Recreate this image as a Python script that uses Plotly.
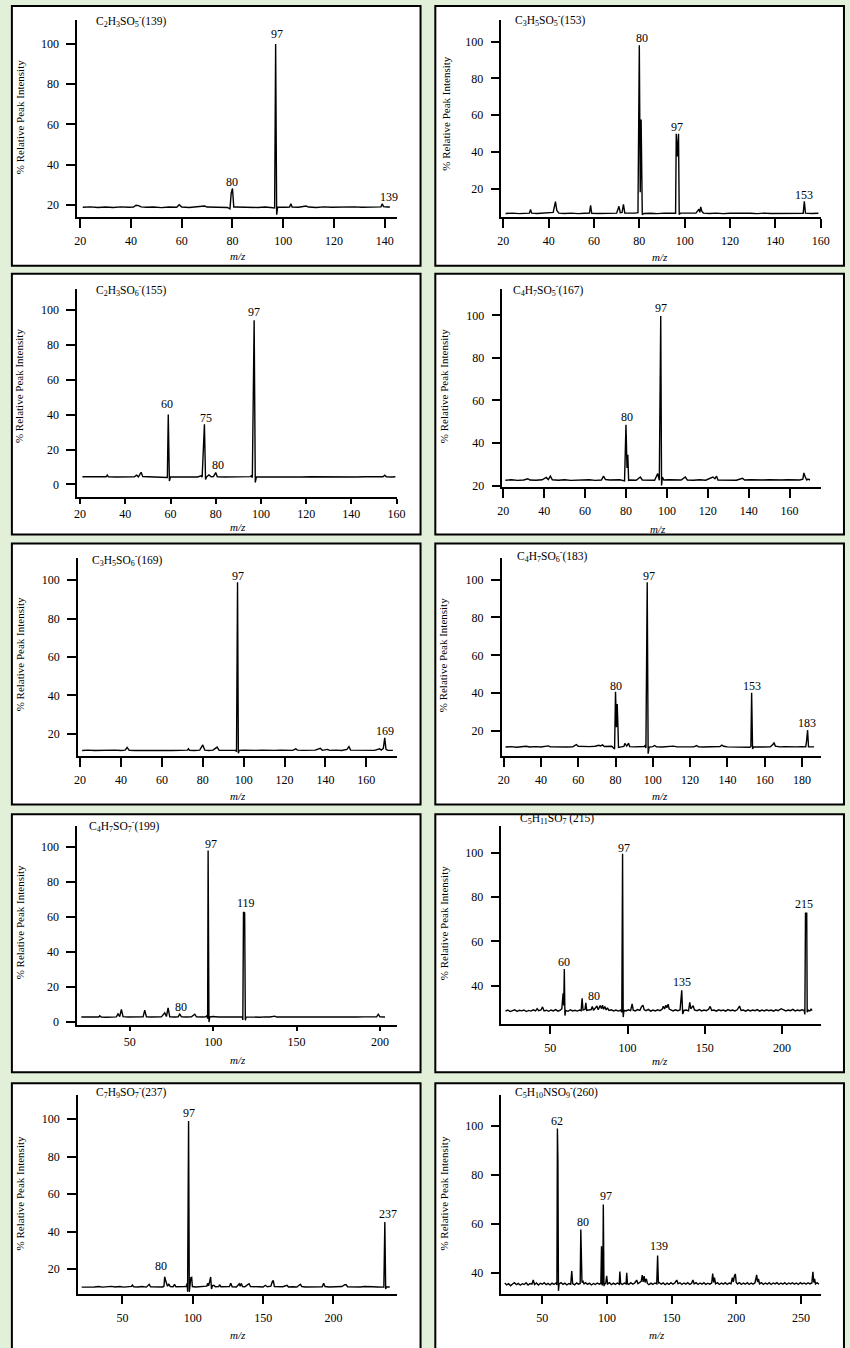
import plotly.graph_objects as go

W, H = 850, 1348
FONT = "Liberation Serif, Times New Roman, serif"

# ---------------- data (m/z, % relative intensity) ----------------
mz_139 = [21, 24, 27, 30, 33, 36, 39, 41, 42, 43,
          44, 46, 49, 52, 55, 58, 59, 60, 63, 66,
          69, 70, 73, 76, 78, 79, 79.5, 80, 80.5, 81,
          84, 87, 90, 93, 95, 96, 96.6, 97, 97.4, 97.8,
          99, 101, 102.5, 103, 103.5, 106, 109, 110, 113, 116,
          119, 122, 125, 128, 131, 134, 137, 138.5, 139, 139.5,
          141, 142]
int_139 = [18.9, 19.1, 18.8, 19.0, 18.8, 19.1, 18.9, 19.0, 19.9, 19.7,
           19.1, 18.9, 19.0, 18.7, 19.0, 18.9, 20.2, 19.0, 18.8, 19.0,
           19.5, 19.0, 18.9, 19.1, 18.8, 18.1, 26.0, 28.2, 19.0, 19.0,
           18.9, 19.1, 18.8, 19.0, 18.9, 18.7, 18.5, 100.0, 15.2, 19.0,
           19.1, 18.9, 19.0, 20.6, 19.0, 18.9, 19.5, 19.0, 18.8, 19.1,
           18.9, 19.0, 18.8, 19.1, 18.9, 19.0, 18.9, 19.1, 20.6, 19.2,
           19.0, 19.0]

mz_153 = [21, 24, 27, 30, 31.5, 32, 32.5, 35, 38, 40,
          42, 43, 43.6, 44.5, 47, 50, 53, 56, 58, 58.5,
          59, 62, 65, 68, 70, 71, 71.6, 72.4, 73, 73.6,
          76, 78, 79.4, 80, 80.4, 80.8, 81.3, 82, 85, 88,
          91, 94, 96, 96.3, 96.8, 97.3, 97.6, 98.2, 100, 103,
          105, 106.3, 106.7, 107.1, 107.6, 108.3, 111, 114, 117, 120,
          123, 126, 129, 132, 135, 138, 141, 144, 147, 150,
          152.3, 152.8, 153.3, 156, 159]
int_153 = [6.4, 6.6, 6.3, 6.5, 6.6, 8.6, 6.6, 6.4, 6.7, 6.8,
           7.0, 12.8, 8.0, 6.6, 6.4, 6.6, 6.3, 6.5, 6.6, 10.8,
           6.5, 6.4, 6.6, 6.4, 6.6, 10.3, 6.8, 7.0, 11.3, 6.6,
           6.4, 6.6, 6.8, 98.0, 18.0, 57.5, 5.8, 6.4, 6.5, 6.3,
           6.6, 6.4, 6.5, 49.8, 37.5, 49.8, 5.8, 6.6, 6.5, 6.4,
           6.6, 8.8, 7.0, 10.0, 7.5, 6.6, 6.4, 6.6, 6.3, 6.5,
           6.6, 6.4, 6.5, 6.3, 6.6, 6.4, 6.5, 6.3, 6.6, 6.4,
           6.5, 13.0, 6.6, 6.4, 6.5]

mz_155 = [21, 25, 29, 31.5, 32, 32.5, 36, 40, 44, 45,
          45.8, 47, 47.7, 50, 54, 58, 58.6, 59, 59.5, 60,
          64, 68, 72, 73.5, 74, 75, 75.5, 76, 77, 78,
          79, 80, 80.7, 84, 88, 92, 95.3, 95.7, 96.2, 97,
          97.5, 98, 102, 106, 110, 114, 118, 122, 126, 130,
          134, 138, 142, 146, 150, 154, 154.8, 155.5, 158, 159.5]
int_155 = [4.4, 4.5, 4.3, 4.4, 5.4, 4.4, 4.3, 4.5, 4.4, 5.3,
           4.4, 7.0, 4.5, 4.4, 4.3, 4.4, 4.0, 40.0, 2.0, 4.4,
           4.3, 4.4, 4.3, 5.0, 4.2, 34.5, 2.8, 4.4, 5.5, 4.4,
           4.5, 6.8, 4.4, 4.3, 4.4, 4.3, 4.5, 5.0, 4.0, 94.0,
           1.2, 4.4, 4.3, 4.4, 4.3, 4.4, 4.3, 4.4, 4.3, 4.4,
           4.3, 4.4, 4.3, 4.4, 4.3, 4.4, 5.3, 4.4, 4.3, 4.4]

mz_167 = [21, 24, 27, 30, 32, 33, 36, 39, 41, 42,
          43, 44, 47, 50, 53, 56, 59, 62, 65, 68,
          69, 70, 72, 75, 77, 79.3, 80, 80.5, 80.9, 81.3,
          82, 85, 87, 88, 91, 94, 95.5, 96.3, 97, 97.4,
          97.8, 98.5, 101, 104, 107, 109, 110, 113, 116, 119,
          121.5, 122.5, 123.5, 124.3, 125, 128, 131, 134, 137, 138,
          141, 144, 147, 150, 153, 156, 159, 162, 165, 166.5,
          167, 167.7, 168.4, 169, 170]
int_167 = [22.5, 22.7, 22.4, 22.6, 23.2, 22.6, 22.5, 22.7, 23.8, 22.8,
           24.4, 22.7, 22.5, 22.7, 22.4, 22.6, 22.5, 22.7, 22.4, 22.6,
           24.4, 22.8, 22.6, 22.5, 22.7, 22.2, 48.6, 28.3, 34.5, 22.4,
           22.6, 22.5, 24.0, 22.6, 22.7, 22.5, 25.6, 22.5, 99.7, 20.0,
           24.0, 22.6, 22.7, 22.5, 22.6, 24.0, 22.6, 22.5, 22.7, 22.5,
           23.6, 24.0, 23.2, 24.4, 22.6, 22.5, 22.7, 22.5, 23.4, 22.6,
           22.7, 22.5, 22.6, 22.7, 22.5, 22.6, 22.7, 22.5, 22.6, 23.0,
           25.9, 24.0, 22.6, 23.0, 22.6]

mz_169 = [21, 24, 27, 30, 32, 34, 37, 40, 42, 43,
          44, 47, 50, 53, 56, 59, 62, 65, 68, 71,
          72.5, 73, 73.5, 76, 78.5, 80, 81, 83, 85, 86.5,
          87, 88, 91, 94, 96, 96.5, 97, 97.4, 97.8, 100,
          103, 106, 109, 112, 115, 118, 121, 124, 125.5, 126.3,
          129, 132, 135, 137.5, 138.5, 141, 142, 145, 148, 150.5,
          151.5, 152.3, 155, 158, 161, 164, 166.5, 167.3, 168.3, 169,
          169.6, 170.5, 173]
int_169 = [11.4, 11.6, 11.4, 11.5, 11.8, 11.5, 11.6, 11.4, 11.6, 13.0,
           11.5, 11.4, 11.6, 11.5, 11.4, 11.6, 11.5, 11.4, 11.6, 11.5,
           11.6, 12.3, 11.5, 11.4, 11.6, 14.3, 11.6, 11.4, 11.6, 12.8,
           13.2, 11.5, 11.4, 11.6, 11.5, 10.8, 98.8, 10.0, 11.5, 11.6,
           11.4, 11.5, 11.6, 11.4, 11.5, 11.6, 11.4, 11.5, 12.3, 11.6,
           11.5, 11.4, 11.6, 12.5, 11.5, 12.0, 11.5, 11.6, 11.4, 12.0,
           13.4, 11.6, 11.5, 11.4, 11.6, 11.5, 12.3, 11.6, 12.5, 18.0,
           12.0, 11.5, 11.5]

mz_183 = [21, 24, 27, 30, 32, 34, 37, 40, 43, 44,
          45, 48, 51, 54, 57, 59, 60, 63, 66, 69,
          71, 72, 73, 74, 76, 78, 79.5, 80, 80.5, 80.9,
          81.3, 81.6, 83, 84.5, 85, 86, 87, 87.6, 90, 93,
          95.3, 95.8, 96.3, 97, 97.5, 98, 100, 101, 102, 105,
          108, 111, 113, 116, 119, 122, 123.5, 124.5, 127, 130,
          133, 136, 137, 138, 140, 143, 146, 149, 152, 152.6,
          153, 153.5, 154, 157, 160, 163, 164.5, 165, 165.7, 168,
          171, 174, 177, 180, 182, 182.5, 183, 183.5, 185, 186.5]
int_183 = [11.5, 11.7, 11.4, 11.6, 11.9, 11.5, 11.7, 11.5, 11.8, 12.1,
           11.6, 11.5, 11.7, 11.5, 11.6, 12.8, 11.9, 11.6, 11.7, 11.9,
           12.4, 12.1, 12.6, 11.8, 11.7, 11.9, 10.5, 40.7, 22.0, 34.2,
           22.3, 11.3, 11.6, 11.8, 13.4, 12.0, 13.5, 11.7, 11.6, 11.5,
           11.8, 12.2, 11.0, 98.6, 8.0, 11.5, 11.7, 12.3, 11.6, 11.5,
           11.7, 12.0, 11.6, 11.5, 11.7, 11.6, 12.3, 11.6, 11.5, 11.7,
           11.6, 11.8, 12.5, 11.9, 11.6, 11.5, 11.7, 11.6, 11.4, 11.8,
           40.2, 10.5, 11.6, 11.5, 11.7, 11.6, 13.0, 13.9, 12.0, 11.6,
           11.7, 11.5, 11.6, 11.7, 11.6, 15.0, 20.5, 11.6, 11.7, 11.6]

mz_199 = [21, 25, 29, 31.5, 32, 33, 36, 39, 42, 43,
          44, 45, 46, 49, 52, 55, 58, 59, 60, 63,
          66, 69, 71, 72, 73, 74, 77, 79, 80, 81,
          84, 87, 89, 90, 93, 95.5, 96.3, 96.7, 97, 97.5,
          98, 100, 103, 106, 109, 112, 115, 117.5, 117.8, 118.2,
          118.9, 119.3, 119.8, 122, 125, 128, 131, 134, 137, 138,
          142, 146, 150, 154, 158, 162, 166, 170, 174, 178,
          182, 186, 190, 194, 198, 199, 200, 203]
int_199 = [2.9, 3.0, 2.8, 2.9, 3.6, 2.9, 2.8, 3.0, 3.0, 4.7,
           3.2, 7.2, 3.1, 2.9, 2.8, 3.0, 3.0, 6.8, 3.0, 2.9,
           2.8, 3.0, 5.3, 3.2, 8.2, 3.0, 2.9, 3.0, 4.6, 3.0,
           2.9, 3.0, 4.5, 3.0, 2.9, 3.0, 3.6, 2.0, 98.1, 0.0,
           3.0, 3.2, 2.9, 3.0, 2.8, 3.0, 2.9, 3.0, 1.2, 63.0,
           62.5, 1.0, 3.0, 2.9, 3.0, 2.8, 3.0, 2.9, 3.4, 2.9,
           3.0, 2.8, 2.9, 3.0, 2.8, 2.9, 3.0, 2.8, 2.9, 3.0,
           2.8, 2.9, 3.0, 2.8, 3.0, 4.5, 3.0, 2.9]

mz_215 = [21, 22.5, 24, 25.5, 27, 28.5, 30, 31.5, 33, 34.5,
          36, 37.5, 39, 40.5, 41.5, 42.5, 44, 45, 46, 47.5,
          49, 50.5, 52, 53.5, 55, 56.5, 57.5, 58.3, 58.7, 59.1,
          59.5, 60, 61.5, 63, 64.5, 66, 67.5, 69, 70, 70.6,
          71.2, 72.5, 73, 73.6, 75, 76.5, 77.2, 78, 79.3, 80.2,
          81, 82.3, 83.2, 83.8, 84.5, 85.3, 86.2, 87, 88, 89.5,
          91, 92.5, 94, 95.5, 96.3, 96.8, 97.2, 97.7, 99, 100.5,
          102, 103, 103.7, 105, 106.5, 108, 109, 110, 110.8, 112,
          113.5, 115, 116.5, 118, 119.5, 121, 122.5, 123.2, 124, 124.8,
          125.5, 126.3, 127, 128, 129.5, 131, 132.5, 134, 134.6, 135.1,
          135.7, 136.5, 138, 139.5, 140.3, 141, 141.8, 142.5, 143.3, 145,
          146.5, 148, 149.5, 151, 152.5, 153.5, 154.5, 156, 157.5, 159,
          160.5, 162, 163.5, 165, 166.5, 168, 169.5, 171, 172.5, 173.5,
          175, 176.5, 178, 179.5, 181, 182.5, 184, 185.5, 187, 188.5,
          190, 191.5, 193, 194.5, 196, 197.5, 199.5, 201, 202.5, 204,
          205.5, 207, 208.5, 210, 211.5, 213, 214.3, 214.8, 215.2, 215.6,
          216, 216.3, 217, 218, 218.8, 219.5]
int_215 = [28.5, 29.0, 28.3, 28.8, 29.1, 28.4, 28.9, 28.6, 29.0, 28.3,
           28.8, 28.5, 29.1, 28.6, 29.6, 28.7, 29.0, 30.4, 28.6, 28.9,
           28.4, 29.0, 28.6, 29.2, 28.5, 28.9, 29.6, 36.5, 31.0, 47.5,
           26.5, 28.8, 28.4, 29.1, 28.6, 28.9, 28.5, 29.0, 28.7, 34.3,
           29.0, 29.3, 32.2, 28.8, 28.9, 29.2, 30.6, 28.9, 30.0, 30.8,
           29.1, 31.0, 29.6, 31.2, 29.3, 30.6, 29.0, 30.0, 28.8, 29.1,
           28.6, 29.0, 28.5, 28.9, 28.0, 99.6, 25.8, 28.9, 28.6, 29.1,
           28.7, 31.8, 28.9, 28.6, 29.2, 28.8, 30.4, 31.2, 29.1, 28.7,
           29.3, 28.5, 29.0, 28.6, 29.1, 28.7, 29.4, 30.7, 29.5, 31.1,
           30.0, 31.6, 29.4, 29.0, 28.6, 29.1, 28.7, 29.0, 33.0, 37.9,
           27.2, 28.8, 29.0, 28.6, 32.5, 29.5, 30.3, 31.0, 29.0, 28.7,
           29.2, 28.6, 29.0, 28.7, 29.3, 30.6, 28.8, 29.0, 28.5, 29.1,
           28.7, 29.0, 28.5, 29.2, 28.7, 29.0, 28.6, 29.1, 30.8, 28.8,
           29.0, 28.5, 29.1, 28.6, 29.0, 28.7, 29.2, 28.5, 29.0, 28.6,
           29.1, 28.7, 29.0, 28.5, 29.1, 28.7, 29.6, 28.9, 28.6, 29.0,
           28.7, 29.3, 28.6, 29.0, 28.7, 29.1, 28.8, 27.0, 73.0, 65.8,
           73.0, 28.0, 28.9, 28.6, 29.4, 28.7]

mz_237 = [21, 24, 27, 30, 33, 36, 39, 42, 45, 48,
          51, 54, 56.5, 57, 58, 61, 64, 67, 69, 70,
          73, 76, 78.5, 79.5, 80, 80.7, 81.3, 82, 83, 84,
          86, 87, 88, 91, 94, 95.5, 96, 96.3, 97, 97.5,
          98, 98.6, 99.2, 99.7, 102, 105, 108, 110, 110.5, 111.2,
          112, 112.7, 113.3, 114, 115, 116, 118.5, 119, 120, 123,
          126, 127, 128, 131, 133, 133.7, 134.5, 135.3, 137, 139,
          140, 141, 144, 147, 150, 151.5, 153, 155.5, 156.5, 157.2,
          158, 161, 164, 167, 168, 171, 174, 176.5, 177.5, 180,
          183, 186, 189, 192, 193, 194, 197, 200, 203, 206,
          208, 209, 210, 213, 216, 219, 222, 225, 228, 231,
          234, 235.8, 236.5, 237.1, 237.7, 240]
int_237 = [10.5, 10.7, 10.5, 10.6, 10.8, 10.5, 10.7, 10.9, 10.6, 10.8,
           10.5, 10.7, 10.9, 11.6, 10.7, 10.6, 10.8, 10.5, 12.0, 10.7,
           10.6, 10.8, 10.6, 11.0, 16.0, 14.0, 12.0, 11.0, 12.0, 10.8,
           10.7, 12.0, 10.7, 10.6, 10.8, 10.9, 12.6, 8.0, 98.9, 8.0,
           10.8, 15.5, 15.7, 10.8, 10.6, 10.7, 10.6, 11.0, 12.5, 11.2,
           13.5, 15.9, 9.5, 11.3, 11.5, 10.7, 10.8, 11.8, 10.7, 10.6,
           10.8, 12.5, 10.7, 10.6, 12.3, 11.0, 12.5, 10.8, 10.7, 11.8,
           12.3, 10.8, 10.6, 10.7, 10.6, 11.5, 10.7, 11.0, 13.5, 14.1,
           10.8, 10.6, 10.7, 11.5, 10.6, 10.7, 10.6, 12.0, 10.8, 10.6,
           10.7, 10.6, 10.8, 10.7, 12.5, 10.8, 10.6, 10.7, 10.6, 10.8,
           11.8, 11.8, 10.7, 10.6, 10.7, 10.6, 10.8, 10.6, 10.7, 10.6,
           10.7, 10.5, 45.2, 9.5, 10.7, 10.6]

mz_260 = [21, 22.5, 24, 25.5, 27, 28.5, 30, 31.5, 33, 34.5,
          36, 37.5, 39, 40.5, 42, 43, 44, 45.5, 47, 48.5,
          50, 51.5, 53, 54.5, 56, 57.5, 59, 60.5, 61.3, 61.7,
          62.1, 62.5, 63, 64.5, 66, 67.5, 69, 70.5, 72, 72.8,
          73.5, 75, 76.5, 78, 79.3, 79.8, 80.3, 80.7, 81.5, 82.3,
          83.5, 85, 86.5, 88, 89.5, 91, 92.5, 94, 95.3, 95.8,
          96.3, 96.8, 97.2, 97.7, 98.3, 99, 99.8, 100.5, 102, 103.5,
          105, 106.5, 108, 109.5, 110, 110.6, 112, 113.5, 114.8, 115.3,
          115.9, 117, 118.5, 120, 121.5, 123, 124, 125.5, 126.5, 127.3,
          128, 128.8, 129.5, 130.5, 131.3, 132.5, 134, 135.5, 137, 138.5,
          139.2, 139.8, 140.5, 142, 143.5, 145, 146.5, 148, 149.5, 151,
          152.5, 154, 155, 156.5, 158, 159.5, 161, 162.5, 164, 165.5,
          166.5, 167.5, 169, 170.5, 172, 173.5, 175, 176.5, 178, 179.5,
          181, 181.8, 182.5, 183.2, 184, 185.5, 187, 188.5, 190, 191.5,
          193, 194.5, 196, 197, 197.8, 198.5, 199.3, 200, 201, 202.5,
          204, 205.5, 207, 208.5, 210, 211.5, 213, 214.5, 215.8, 216.5,
          217.2, 218, 219.5, 221, 222.5, 224, 225.5, 227, 228.5, 230,
          231.5, 233, 234.5, 236, 237.5, 239, 240.5, 242, 243.5, 245,
          246.5, 248, 249.5, 251, 252.5, 254, 255.5, 257, 258.5, 259.3,
          260, 260.6, 261.3, 262.5, 264]
int_260 = [35.8, 35.0, 35.5, 34.7, 35.4, 35.9, 35.1, 35.6, 34.9, 35.5,
           35.2, 35.9, 35.0, 35.6, 35.3, 37.0, 35.2, 35.8, 35.0, 35.7,
           35.3, 35.9, 35.1, 35.6, 35.0, 35.7, 35.2, 35.8, 35.0, 98.9,
           85.6, 32.6, 35.4, 35.9, 35.2, 35.7, 35.0, 35.6, 35.3, 40.7,
           35.5, 35.0, 35.8, 35.3, 35.6, 57.6, 45.8, 36.0, 36.5, 35.4,
           35.9, 35.2, 35.7, 35.0, 35.6, 35.2, 35.8, 35.3, 35.6, 50.8,
           34.8, 36.0, 67.8, 34.5, 35.8, 35.3, 38.7, 35.4, 35.9, 35.1,
           35.7, 35.2, 35.8, 35.3, 40.5, 35.6, 35.2, 35.8, 35.4, 40.0,
           35.5, 35.2, 35.9, 35.3, 35.8, 37.0, 35.5, 35.9, 36.5, 39.0,
           36.2, 38.6, 36.0, 37.5, 35.6, 35.1, 35.7, 35.2, 35.8, 35.4,
           47.0, 35.8, 36.0, 35.3, 35.8, 35.1, 35.7, 35.2, 35.9, 35.3,
           35.8, 37.0, 35.5, 35.9, 35.2, 35.8, 35.3, 35.9, 35.2, 35.7,
           37.0, 35.4, 35.9, 35.2, 35.8, 35.3, 35.9, 35.2, 35.7, 35.3,
           35.8, 39.6, 36.0, 38.0, 35.4, 35.9, 35.2, 35.8, 35.3, 35.9,
           35.2, 35.8, 35.5, 38.0, 36.2, 38.6, 39.5, 36.0, 35.4, 35.9,
           35.2, 35.8, 35.3, 35.9, 35.2, 35.8, 35.3, 35.9, 39.1, 36.2,
           37.5, 35.4, 35.9, 35.2, 35.8, 35.3, 35.9, 35.2, 35.8, 35.4,
           35.9, 35.2, 35.8, 35.3, 35.9, 35.2, 35.8, 35.4, 35.9, 35.3,
           35.8, 35.2, 35.9, 35.4, 35.8, 35.3, 35.9, 35.4, 35.8, 40.4,
           36.0, 37.5, 35.4, 35.9, 35.3]

# ion titles
titles = [
    "C<sub>2</sub>H<sub>3</sub>SO<sub>5</sub><sup>-</sup>(139)",
    "C<sub>3</sub>H<sub>5</sub>SO<sub>5</sub><sup>-</sup>(153)",
    "C<sub>2</sub>H<sub>3</sub>SO<sub>6</sub><sup>-</sup>(155)",
    "C<sub>4</sub>H<sub>7</sub>SO<sub>5</sub><sup>-</sup>(167)",
    "C<sub>3</sub>H<sub>5</sub>SO<sub>6</sub><sup>-</sup>(169)",
    "C<sub>4</sub>H<sub>7</sub>SO<sub>6</sub><sup>-</sup>(183)",
    "C<sub>4</sub>H<sub>7</sub>SO<sub>7</sub><sup>-</sup>(199)",
    "C<sub>5</sub>H<sub>11</sub>SO<sub>7</sub><sup>-</sup>(215)",
    "C<sub>7</sub>H<sub>9</sub>SO<sub>7</sub><sup>-</sup>(237)",
    "C<sub>5</sub>H<sub>10</sub>NSO<sub>9</sub><sup>-</sup>(260)",
]

# peak labels: text, x (m/z), y (%)
lab_txt_139, lab_x_139, lab_y_139 = ["97", "80", "139"], [97.5, 79.9, 141.7], [104.8, 31.4, 24.0]
lab_txt_153, lab_x_153, lab_y_153 = ["80", "97", "153"], [81.1, 96.7, 152.8], [101.8, 53.3, 16.2]
lab_txt_155, lab_x_155, lab_y_155 = ["60", "75", "80", "97"], [58.6, 75.6, 80.8, 96.8], [45.9, 38.3, 11.4, 98.7]
lab_txt_167, lab_x_167, lab_y_167 = ["80", "97"], [80.5, 96.9], [52.0, 103.4]
lab_txt_169, lab_x_169, lab_y_169 = ["97", "169"], [97.3, 168.9], [102.2, 21.7]
lab_txt_183, lab_x_183, lab_y_183 = ["80", "97", "153", "183"], [80.4, 98.2, 153.1, 182.5], [43.7, 102.1, 43.7, 24.0]
lab_txt_199, lab_x_199, lab_y_199 = ["80", "97", "119"], [80.9, 98.8, 119.9], [8.9, 102.1, 67.9]
lab_txt_215, lab_x_215, lab_y_215 = ["60", "80", "97", "135", "215"], [58.9, 78.5, 97.6, 135.2, 214.4], [50.5, 35.2, 102.25, 41.5, 76.75]
lab_txt_237, lab_x_237, lab_y_237 = ["80", "97", "237"], [77.3, 97.1, 238.9], [21.8, 103.0, 49.5]
lab_txt_260, lab_x_260, lab_y_260 = ["62", "80", "97", "139"], [61.7, 81.2, 99.5, 140.4], [102.0, 60.6, 71.2, 51.1]

# axis ranges and ticks
x_ranges = [[18.8, 144.9], [19.1, 160.3], [18.7, 160.3], [19.5, 175.2], [18.9, 175.1],
            [18.9, 190.0], [18.5, 210.0], [18.3, 225.0], [18.3, 245.3], [18.3, 265.8]]
y_ranges = [[13.9, 111.9], [4.3, 111.8], [-7.2, 112.0], [19.25, 112.5], [8.6, 111.7],
            [6.8, 111.7], [-1.5, 112.0], [22.8, 112.0], [7.1, 112.7], [31.5, 112.5]]
x_ticks = [[20, 40, 60, 80, 100, 120, 140], [20, 40, 60, 80, 100, 120, 140, 160],
           [20, 40, 60, 80, 100, 120, 140, 160], [20, 40, 60, 80, 100, 120, 140, 160],
           [20, 40, 60, 80, 100, 120, 140, 160], [20, 40, 60, 80, 100, 120, 140, 160, 180],
           [50, 100, 150, 200], [50, 100, 150, 200], [50, 100, 150, 200], [50, 100, 150, 200, 250]]
y_ticks = [[20, 40, 60, 80, 100], [20, 40, 60, 80, 100], [0, 20, 40, 60, 80, 100],
           [20, 40, 60, 80, 100], [20, 40, 60, 80, 100], [20, 40, 60, 80, 100],
           [0, 20, 40, 60, 80, 100], [40, 60, 80, 100], [20, 40, 60, 80, 100], [40, 60, 80, 100]]

spectra = [(mz_139, int_139), (mz_153, int_153), (mz_155, int_155), (mz_167, int_167),
           (mz_169, int_169), (mz_183, int_183), (mz_199, int_199), (mz_215, int_215),
           (mz_237, int_237), (mz_260, int_260)]
peak_labels = [(lab_txt_139, lab_x_139, lab_y_139), (lab_txt_153, lab_x_153, lab_y_153),
               (lab_txt_155, lab_x_155, lab_y_155), (lab_txt_167, lab_x_167, lab_y_167),
               (lab_txt_169, lab_x_169, lab_y_169), (lab_txt_183, lab_x_183, lab_y_183),
               (lab_txt_199, lab_x_199, lab_y_199), (lab_txt_215, lab_x_215, lab_y_215),
               (lab_txt_237, lab_x_237, lab_y_237), (lab_txt_260, lab_x_260, lab_y_260)]

# ---------------- layout geometry (pixels) ----------------
boxes = [(7, 6, 422, 267), (437, 6, 852, 267),
         (7, 275, 422, 537), (437, 275, 852, 537),
         (7, 546, 422, 808), (437, 546, 852, 808),
         (7, 818, 422, 1077), (437, 818, 852, 1077),
         (7, 1088, 422, 1362), (437, 1088, 852, 1362)]
areas = [(73.3, 398.3, 20, 218.3), (504, 829, 20, 218.3),
         (73.3, 398.3, 290, 499.3), (505, 828.3, 290, 489.3),
         (74, 398.3, 560, 759.3), (504.3, 828.3, 560, 759.3),
         (73.3, 397.7, 830, 1029.3), (504, 828.3, 830, 1028.3),
         (74, 398.3, 1100, 1299.3), (504, 829, 1100, 1299.3)]
x_ticklen = [9, 9, 5, 9, 9, 9, 5, 9, 9, 9]
x_standoff = [3, 3, 0, 3, 3, 3, 0, 3, 3, 3]
title_pos = [(90, 21), (515.7, 20), (90, 291), (514, 291.7), (86, 563), (518, 558),
             (83, 830), (521, 822), (90, 1097), (515.7, 1097)]
ytitle_pos = [(16, 118), (448, 114), (15, 388), (445.7, 388), (15, 657.5), (445, 658),
              (15, 926.7), (445.7, 927.5), (15, 1199), (445.7, 1199)]
mz_pos = [(237, 257), (665, 258), (237, 529), (663, 531.5), (237, 800), (665, 800),
          (237, 1065), (665, 1066), (237, 1341), (661.7, 1341)]


def px(x):
    return x / W


def py(y):
    return 1 - y / H


fig = go.Figure()
shapes = []
annotations = []
layout_axes = {}

for i in range(10):
    k = "" if i == 0 else str(i + 1)
    xa, ya = "x" + k, "y" + k
    mz, inten = spectra[i]
    assert len(mz) == len(inten), i
    fig.add_trace(go.Scatter(x=mz, y=inten, mode="lines",
                             line=dict(color="black", width=1.4),
                             xaxis=xa, yaxis=ya, showlegend=False, hoverinfo="skip"))
    l, r, t, b = areas[i]
    common = dict(showline=True, linecolor="black", linewidth=1.5, ticks="outside",
                  tickwidth=1.5, tickcolor="black", showgrid=False,
                  zeroline=False, tickfont=dict(family=FONT, size=12, color="black"))
    layout_axes["xaxis" + k] = dict(domain=[px(l), px(r)], range=x_ranges[i], anchor=ya,
                                    tickvals=x_ticks[i], ticklen=x_ticklen[i],
                                    ticklabelstandoff=x_standoff[i], **common)
    layout_axes["yaxis" + k] = dict(domain=[py(b), py(t)], range=y_ranges[i], anchor=xa,
                                    tickvals=y_ticks[i], ticklen=9,
                                    ticklabelstandoff=5, **common)
    x0, y0, x1, y1 = boxes[i]
    shapes.append(dict(type="rect", xref="paper", yref="paper", x0=px(x0), x1=px(x1),
                       y0=py(y1), y1=py(y0), line=dict(color="black", width=2),
                       fillcolor="white", layer="below"))
    tx, ty = title_pos[i]
    annotations.append(dict(xref="paper", yref="paper", x=px(tx), y=py(ty), text=titles[i],
                            showarrow=False, xanchor="left", yanchor="middle",
                            font=dict(family=FONT, size=11.5, color="black")))
    yx, yy = ytitle_pos[i]
    annotations.append(dict(xref="paper", yref="paper", x=px(yx), y=py(yy),
                            text="% Relative Peak Intensity", textangle=-90, showarrow=False,
                            xanchor="center", yanchor="middle",
                            font=dict(family=FONT, size=11, color="black")))
    mx, my = mz_pos[i]
    annotations.append(dict(xref="paper", yref="paper", x=px(mx), y=py(my),
                            text="<i>m/z</i>", showarrow=False, xanchor="center",
                            yanchor="middle", font=dict(family=FONT, size=11, color="black")))
    for txt, lx, ly in zip(*peak_labels[i]):
        annotations.append(dict(xref=xa, yref=ya, x=lx, y=ly, text=txt, showarrow=False,
                                xanchor="center", yanchor="middle",
                                font=dict(family=FONT, size=12, color="black")))

fig.update_layout(width=W, height=H, margin=dict(l=0, r=0, t=0, b=0),
                  paper_bgcolor="#E2EFD9", plot_bgcolor="rgba(0,0,0,0)",
                  shapes=shapes, annotations=annotations, showlegend=False,
                  **layout_axes)

fig.write_html("out.html", config={"displayModeBar": False},
               post_script="document.body.style.margin='0';document.body.style.overflow='hidden';")
